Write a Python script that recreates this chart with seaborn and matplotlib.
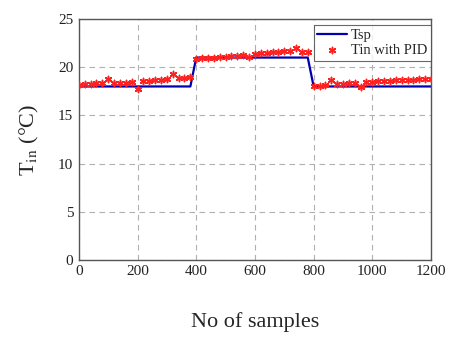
import numpy as np
import pandas as pd
import seaborn as sns
import matplotlib.pyplot as plt

# set point (breakpoints of the step profile)
tsp_x = [0, 380, 400, 780, 800, 1200]
tsp_y = [18, 18, 21, 21, 18, 18]

# measured indoor temperature with PID, every 20 samples
tin_x = list(range(0, 1201, 20))
tin_y = [18.2, 18.3, 18.3, 18.4, 18.4, 18.8, 18.4, 18.4, 18.4, 18.5,
         17.7, 18.6, 18.6, 18.7, 18.7, 18.8, 19.3, 18.9, 18.9, 19.0,
         20.9, 21.0, 21.0, 21.0, 21.1, 21.1, 21.2, 21.2, 21.3, 21.1,
         21.4, 21.5, 21.5, 21.6, 21.6, 21.7, 21.7, 22.0, 21.6, 21.6,
         18.0, 18.0, 18.1, 18.7, 18.3, 18.3, 18.4, 18.4, 17.9, 18.5,
         18.5, 18.6, 18.6, 18.6, 18.7, 18.7, 18.7, 18.7, 18.8, 18.8,
         18.8]

x_ticks = [0, 200, 400, 600, 800, 1000, 1200]
y_ticks = [0, 5, 10, 15, 20, 25]

sns.set_style("whitegrid")
plt.rcParams['font.family'] = ['Liberation Serif', 'DejaVu Serif']
plt.rcParams['mathtext.fontset'] = 'stix'

fig = plt.figure(figsize=(4.61, 3.46), dpi=100)
ax = fig.add_axes([0.171, 0.249, 0.764, 0.696])

sns.lineplot(x=tsp_x, y=tsp_y, ax=ax, color='#0000b0', linewidth=1.6, label='Tsp')
sns.scatterplot(x=tin_x, y=tin_y, ax=ax, marker=(6, 2, 0), s=20, color='#ff2020',
                edgecolor='#ff2020', linewidth=1.1, label='Tin with PID', zorder=3)

ax.set_xlim(0, 1200)
ax.set_ylim(0, 25)
ax.set_xticks(x_ticks)
ax.set_yticks(y_ticks)
ax.grid(True, linestyle=(0, (5, 4)), color='#b0b0b0', linewidth=0.8)
for s in ax.spines.values():
    s.set_color('#555555')
    s.set_linewidth(1.0)
ax.tick_params(labelsize=11, length=0, pad=4, colors='#222222')

ax.set_xlabel('No of samples', fontsize=16, labelpad=24)
ax.set_ylabel('T$_{\\rm in}$ (°C)', fontsize=16, labelpad=12)

leg = ax.legend(loc='upper right', bbox_to_anchor=(1.0, 0.975), fontsize=10.5,
                frameon=True, fancybox=False, borderpad=0.25, handlelength=2.0,
                handletextpad=0.3, labelspacing=0.15, borderaxespad=0.0)
leg.get_frame().set_edgecolor('#444444')
leg.get_frame().set_linewidth(0.8)

fig.savefig('out.png', dpi=100)
